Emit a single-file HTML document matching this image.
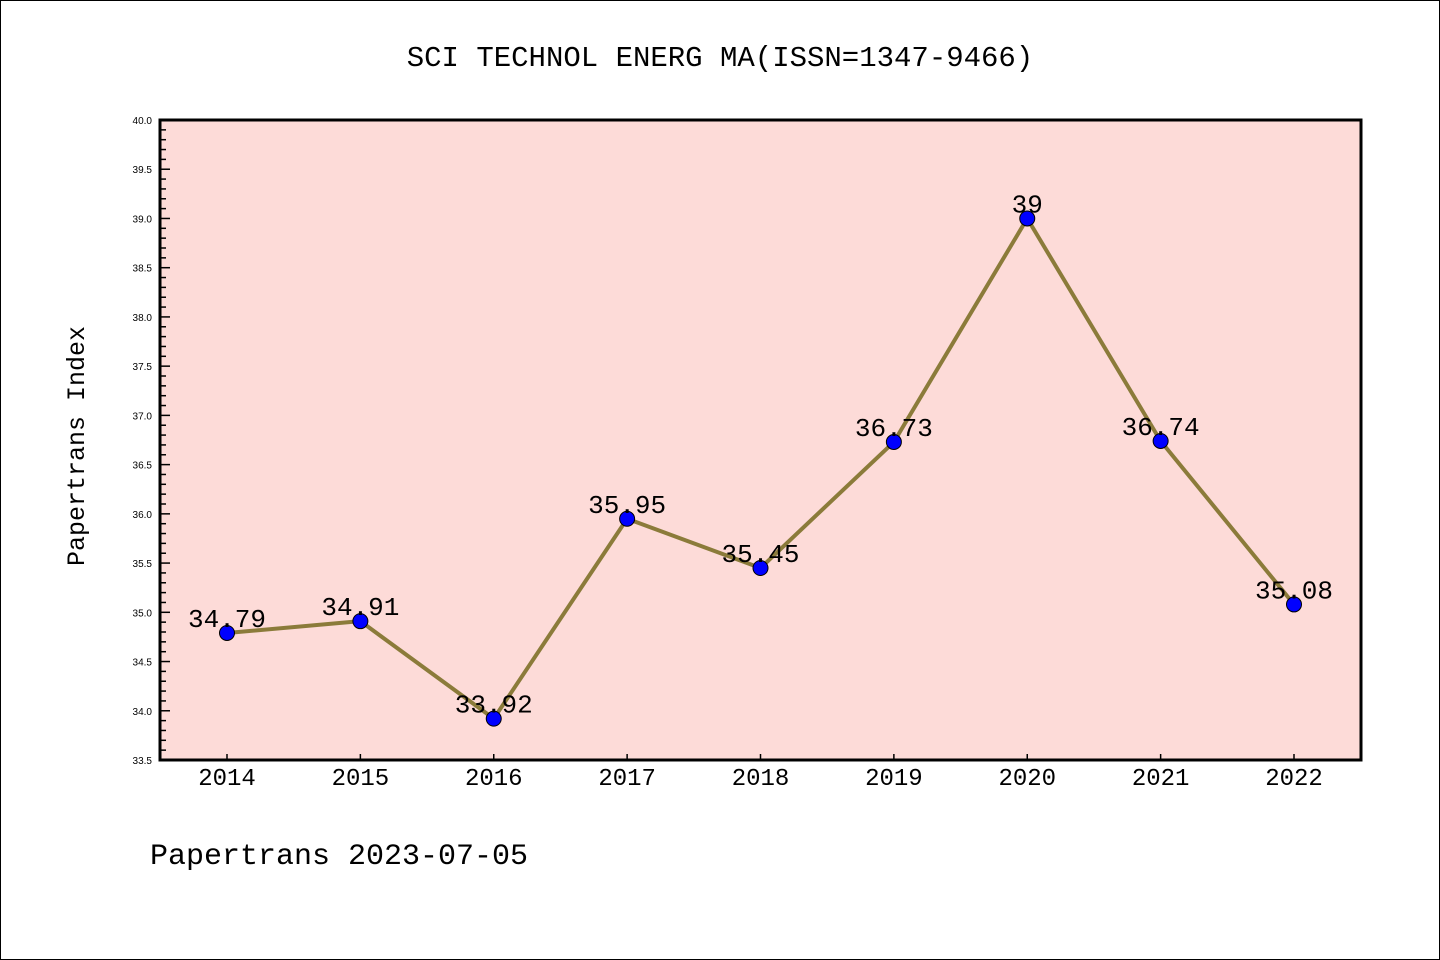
<!DOCTYPE html>
<html><head><meta charset="utf-8"><style>
html,body{margin:0;padding:0;background:#fff}
svg{display:block}
</style></head><body>
<svg id="chart" width="1440" height="960" xmlns="http://www.w3.org/2000/svg">
<rect x="0.5" y="0.5" width="1439" height="959" fill="#fff" stroke="#000" stroke-width="1"/>
<text x="720" y="66" text-anchor="middle" font-family="Liberation Mono, monospace" font-size="29">SCI TECHNOL ENERG MA(ISSN=1347-9466)</text>
<rect x="160" y="120" width="1201" height="640" fill="#fddbd8"/>
<g id="yticks"></g>
<g id="xticks"></g>
<g id="series"></g>
<rect x="160" y="120" width="1201" height="640" fill="none" stroke="#000" stroke-width="3"/>
<text transform="translate(84,446) rotate(-90)" text-anchor="middle" font-family="Liberation Mono, monospace" font-size="25">Papertrans Index</text>
<text x="150" y="864" font-family="Liberation Mono, monospace" font-size="30">Papertrans 2023-07-05</text>
</svg>
<script>
const years = ["2014","2015","2016","2017","2018","2019","2020","2021","2022"];
const values = [34.79,34.91,33.92,35.95,35.45,36.73,39,36.74,35.08];
const valueLabels = ["34.79","34.91","33.92","35.95","35.45","36.73","39","36.74","35.08"];
const yTickLabels = ["33.5","34.0","34.5","35.0","35.5","36.0","36.5","37.0","37.5","38.0","38.5","39.0","39.5","40.0"];
const yMin = 33.5, yMax = 40.0;
const NS = "http://www.w3.org/2000/svg";
const L=160,R=1361,T=120,B=760;
function yScale(v){return B-(v-yMin)/(yMax-yMin)*(B-T);}
function xScale(i){return 227+i*(1294-227)/(years.length-1);}
function mk(tag,attrs,parent){const e=document.createElementNS(NS,tag);for(const k in attrs)e.setAttribute(k,attrs[k]);parent.appendChild(e);return e;}
const yt=document.getElementById('yticks');
for(let k=0;k<=Math.round((yMax-yMin)*10);k++){
  const v=yMin+k*0.1, y=yScale(v), major=k%5===0;
  const l=mk('line',{x1:L,x2:L+(major?10:6),y1:y,y2:y,stroke:'#000','stroke-width':1.5},yt);
  
  
}
yTickLabels.forEach(s=>{
  const t=mk('text',{x:152,y:yScale(parseFloat(s))+4,'text-anchor':'end','font-family':'Liberation Sans, sans-serif','font-size':10},yt);
  
  
  t.textContent=s;
});
const xt=document.getElementById('xticks');
years.forEach((yr,i)=>{
  const x=xScale(i);
  const l=mk('line',{x1:x,x2:x,y1:B,y2:B-6,stroke:'#000','stroke-width':1.5},xt);
  
  
  const t=mk('text',{x:x,y:785,'text-anchor':'middle','font-family':'Liberation Mono, monospace','font-size':24},xt);
  
  
  t.textContent=yr;
});
const sg=document.getElementById('series');
const pts=values.map((v,i)=>xScale(i)+','+yScale(v)).join(' ');
const line=mk('polyline',{points:pts,fill:'none',stroke:'#8b7b3a','stroke-width':4,'stroke-linejoin':'round'},sg);


values.forEach((v,i)=>{
  const c=mk('circle',{cx:xScale(i),cy:yScale(v),r:7.5,fill:'#0000ff',stroke:'#000','stroke-width':1},sg);
  
  
});
values.forEach((v,i)=>{
  const t=mk('text',{x:xScale(i),y:yScale(v)-6,'text-anchor':'middle','font-family':'Liberation Mono, monospace','font-size':26},sg);
  
  
  t.textContent=valueLabels[i];
});
</script>
</body></html>
